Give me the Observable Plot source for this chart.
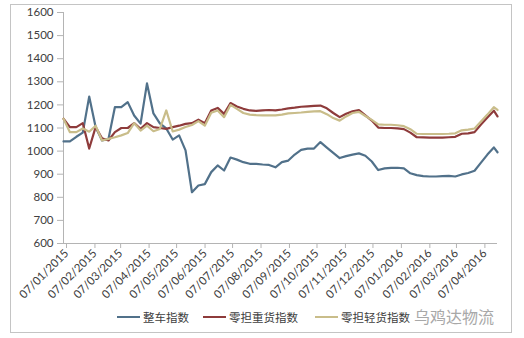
<!DOCTYPE html>
<html><head><meta charset="utf-8">
<script src="https://cdn.jsdelivr.net/npm/d3@7"></script>
<script src="https://cdn.jsdelivr.net/npm/@observablehq/plot@0.6"></script>
<style>
body{margin:0;background:#fff;width:524px;height:338px;position:relative;overflow:hidden;}
#frame{position:absolute;left:10px;top:4px;width:502px;height:329px;border:1px solid #c4c4c4;box-sizing:border-box;}
#chart{position:absolute;left:0;top:0;}
.leg{position:absolute;top:308px;height:18px;font-family:"Noto Sans CJK SC";font-size:11.5px;color:#404040;display:flex;align-items:center;white-space:nowrap;}
.leg .sw{display:inline-block;width:23px;height:2px;margin-right:3px;}
#wm{position:absolute;left:414px;top:304px;font-family:"Noto Sans CJK SC";font-size:16px;color:#a8a8a8;white-space:nowrap;}
</style></head><body>
<div id="frame"></div>
<div id="chart"></div>
<div id="legend"></div>
<div id="wm">乌鸡达物流</div>
<script>
const seriesNames = ["整车指数", "零担重货指数", "零担轻货指数"];
const seriesColors = ["#51718a", "#8e3b3b", "#c9bd8a"];

const dates = [
 "2015-01-07","2015-01-14","2015-01-21","2015-01-28","2015-02-04","2015-02-11","2015-02-18","2015-02-25",
 "2015-03-04","2015-03-11","2015-03-18","2015-03-25","2015-04-01","2015-04-08","2015-04-15","2015-04-22",
 "2015-04-29","2015-05-06","2015-05-13","2015-05-20","2015-05-27","2015-06-03","2015-06-10","2015-06-17",
 "2015-06-24","2015-07-01","2015-07-08","2015-07-15","2015-07-22","2015-07-29","2015-08-05","2015-08-12",
 "2015-08-19","2015-08-26","2015-09-02","2015-09-09","2015-09-16","2015-09-23","2015-09-30","2015-10-07",
 "2015-10-14","2015-10-21","2015-10-28","2015-11-04","2015-11-11","2015-11-18","2015-11-25","2015-12-02",
 "2015-12-09","2015-12-16","2015-12-23","2015-12-30","2016-01-06","2016-01-13","2016-01-20","2016-01-27",
 "2016-02-03","2016-02-10","2016-02-17","2016-02-24","2016-03-02","2016-03-09","2016-03-16","2016-03-23",
 "2016-03-30","2016-04-06","2016-04-13","2016-04-20","2016-04-24"
];

const truckIndex = [
 1042,1042,1062,1080,1236,1104,1046,1052,1190,1190,1212,1154,1119,1293,1163,1120,
 1098,1050,1068,1003,822,851,857,909,938,916,972,963,952,945,945,942,
 940,930,952,959,985,1005,1011,1011,1039,1015,992,970,978,985,990,980,
 955,918,925,927,928,925,904,896,892,890,890,892,893,890,899,905,
 915,950,985,1016,995
];
const heavyIndex = [
 1140,1104,1104,1121,1011,1104,1055,1046,1082,1100,1100,1121,1096,1121,1104,1100,
 1096,1104,1110,1118,1121,1136,1121,1176,1187,1161,1208,1193,1183,1176,1174,1176,
 1178,1176,1180,1185,1188,1192,1194,1196,1197,1185,1165,1147,1162,1172,1178,1155,
 1132,1102,1100,1100,1098,1095,1080,1060,1059,1058,1058,1058,1060,1062,1075,1077,
 1082,1115,1145,1175,1150
];
const lightIndex = [
 1140,1082,1082,1098,1084,1110,1046,1053,1060,1068,1078,1121,1089,1110,1086,1096,
 1176,1085,1093,1104,1113,1130,1110,1166,1176,1147,1200,1183,1165,1158,1156,1155,
 1155,1155,1158,1163,1165,1167,1170,1172,1173,1160,1143,1132,1150,1165,1170,1152,
 1135,1116,1114,1114,1112,1108,1095,1075,1074,1074,1074,1074,1075,1077,1090,1093,
 1098,1128,1158,1190,1178
];

const monthTicks = [
 "2015-01-07","2015-02-07","2015-03-07","2015-04-07","2015-05-07","2015-06-07","2015-07-07","2015-08-07",
 "2015-09-07","2015-10-07","2015-11-07","2015-12-07","2016-01-07","2016-02-07","2016-03-07","2016-04-07"
];
const yTicks = [600,700,800,900,1000,1100,1200,1300,1400,1500,1600];

const allValues = [truckIndex, heavyIndex, lightIndex];
const data = [];
allValues.forEach((vals, j) => {
  vals.forEach((v, i) => data.push({date: new Date(dates[i]), value: v, name: seriesNames[j]}));
});

const xStart = new Date(dates[0]);
const xEnd = new Date(dates[dates.length - 1]);
const axisColor = "#b4b4b4";

const chart = Plot.plot({
  width: 524, height: 300,
  marginLeft: 63, marginRight: 27, marginTop: 12, marginBottom: 57,
  style: {fontFamily: "Lato", fontSize: "11.5px", color: "#404040", background: "transparent", overflow: "visible"},
  x: {type: "utc", domain: [xStart, xEnd]},
  y: {domain: [600, 1600]},
  color: {domain: seriesNames, range: seriesColors},
  marks: [
    Plot.axisY({ticks: yTicks, tickFormat: d3.format("d"), tickSize: 6, tickPadding: 4, label: null, stroke: axisColor, fill: "#404040"}),
    Plot.axisX({ticks: monthTicks.map(d => new Date(d)), tickFormat: d3.utcFormat("%d/%m/%Y"), tickRotate: -45, tickSize: 5, tickPadding: 3, label: null, stroke: axisColor, fill: "#404040", dx: 3}),
    Plot.ruleX([xStart], {stroke: axisColor}),
    Plot.ruleY([600], {stroke: axisColor}),
    Plot.line(data, {x: "date", y: "value", z: "name", stroke: "name", strokeWidth: 2.2, curve: "linear"})
  ]
});
document.getElementById("chart").appendChild(chart);

const legendPos = [[117, 142], [203, 229], [315, 340]];
const legend = document.getElementById("legend");
seriesNames.forEach((n, j) => {
  const item = document.createElement("div");
  item.className = "leg";
  item.style.left = legendPos[j][0] + "px";
  item.innerHTML = `<span class="sw" style="background:${seriesColors[j]}"></span><span>${n}</span>`;
  legend.appendChild(item);
});
</script>
</body></html>
